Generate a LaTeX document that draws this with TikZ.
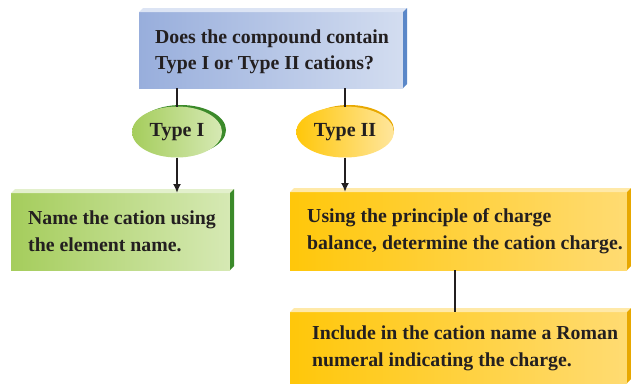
\documentclass[tikz,border=0pt]{standalone}
\usepackage{fontspec}
\setmainfont{Liberation Serif}
\usetikzlibrary{arrows.meta, shapes.geometric}
\definecolor{inkc}{HTML}{231F20}
\definecolor{bluel}{HTML}{98AEDC}
\definecolor{bluer}{HTML}{D3DDF0}
\definecolor{bluetop}{HTML}{DCE4F4}
\definecolor{blueside}{HTML}{5A87C8}
\definecolor{greenl}{HTML}{A5CD5C}
\definecolor{greenr}{HTML}{D6E9B4}
\definecolor{greentop}{HTML}{E3F0CC}
\definecolor{greenside}{HTML}{3B8A2A}
\definecolor{yell}{HTML}{FFC70A}
\definecolor{yelr}{HTML}{FFDB72}
\definecolor{yeltop}{HTML}{FFE9A8}
\definecolor{yelside}{HTML}{E8A800}
\tikzset{
  slab/.style={rectangle, outer sep=0pt, inner sep=0pt},
  words/.style={anchor=west, align=left, inner sep=0pt, text=inkc,
    font=\fontsize{19.8}{26.5}\selectfont\bfseries},
  tag/.style={ellipse, outer sep=0pt, minimum width=90pt, minimum height=51pt,
    text=inkc, font=\fontsize{20}{26}\selectfont\bfseries},
  link/.style={line width=1.8pt, inkc},
}
\begin{document}
\begin{tikzpicture}[x=1pt, y=-1pt]
  \useasboundingbox (0,0) rectangle (631,383);
  % boxes
  \node[slab, left color=bluel, right color=bluer, minimum width=264pt,
    minimum height=76pt] (ask) at (271,50) {};
  \node[slab, left color=greenl, right color=greenr, minimum width=219pt,
    minimum height=77pt] (nameA) at (120.5,231.5) {};
  \node[slab, left color=yell, right color=yelr, minimum width=337pt,
    minimum height=78pt] (charge) at (458.5,231) {};
  \node[slab, left color=yell, right color=yelr, minimum width=337pt,
    minimum height=71pt] (roman) at (458.5,347.5) {};
  % 3D edges
  \foreach \n/\tc/\sc in {ask/bluetop/blueside, nameA/greentop/greenside,
      charge/yeltop/yelside, roman/yeltop/yelside} {
    \fill[\tc] (\n.north west) -- ++(4,-4) -- ([shift={(4,-4)}]\n.north east)
      -- (\n.north east) -- cycle;
    \fill[\sc] (\n.north east) -- ++(4,-4) -- ([shift={(4,-4)}]\n.south east)
      -- (\n.south east) -- cycle;
  }
  % texts
  \node[words] (askT) at ([xshift=16pt, yshift=-2pt]ask.west)
    {Does the compound contain\\Type I or Type II cations?};
  \node[words] (nameT) at ([xshift=17pt]nameA.west)
    {Name the cation using\\the element name.};
  \node[words] (chargeT) at ([xshift=17pt]charge.west)
    {Using the principle of charge\\balance, determine the cation charge.};
  \node[words] (romanT) at ([xshift=22pt, yshift=-1pt]roman.west)
    {Include in the cation name a Roman\\numeral indicating the charge.};
  % type bubbles
  \fill[greenside] (181,130) ellipse (45pt and 25pt);
  \node[tag, left color=greenl, right color=greenr] (typeA) at (177,132) {Type I};
  \fill[yelside] (349,130) ellipse (45pt and 25pt);
  \node[tag, left color=yell, right color=yelr!70!white] (typeB) at (345,132) {Type II};
  % connectors
  \draw[link] (ask.south -| typeA) -- (typeA.north);
  \draw[link] (ask.south -| typeB) -- (typeB.north);
  \draw[link, -{Latex[length=9pt, width=8pt]}] (typeA.south) -- (typeA.south |- nameA.north);
  \draw[link, -{Latex[length=9pt, width=8pt]}] (typeB.south) -- (typeB.south |- charge.north);
  \draw[link] ([xshift=-3.5pt]charge.south) -- ([xshift=-3.5pt]roman.north);
\end{tikzpicture}
\end{document}
